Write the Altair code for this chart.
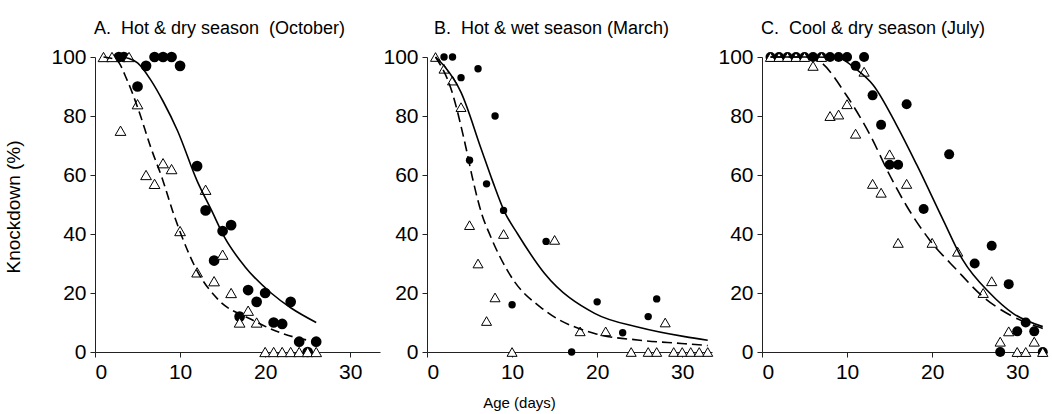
import altair as alt
import pandas as pd

FONT = "Liberation Sans"

# ---------------- Panel A: Hot & dry season (October) ----------------
a_circ_x = [2.8, 3.4, 5, 6, 7, 8, 9, 10, 12, 13, 14, 15, 16, 17, 18, 19, 20, 21, 22, 23, 24, 25, 26]
a_circ_y = [100, 100, 90, 97, 100, 100, 100, 97, 63, 48, 31, 41, 43, 12, 21, 17, 20, 10, 9.5, 17, 3.5, 0, 3.5]
a_tri_x = [1, 2, 4, 3, 5, 6, 7, 8, 9, 10, 12, 13, 14, 15, 16, 17, 18, 19, 20, 21, 22, 23, 24, 25, 26]
a_tri_y = [100, 100, 100, 75, 84, 60, 57, 64, 62, 41, 27, 55, 24, 33, 20, 10, 14, 10, 0, 0, 0, 0, 0, 0, 0]
a_sol_x = [3, 4, 5, 6.6, 8, 9.7, 12, 13.7, 15.2, 17.6, 20.7, 23, 26]
a_sol_y = [100, 99.5, 98, 92, 85, 75, 58, 48, 39, 29, 20, 15, 10]
a_das_x = [1, 2.5, 3.8, 5, 6.6, 8, 9.1, 10.1, 12.1, 14.4, 18.4, 22.3, 25]
a_das_y = [100, 99, 92, 83, 69, 58, 48, 40, 27, 18, 11, 6, 4]

# ---------------- Panel B: Hot & wet season (March) ----------------
b_circ_x = [2, 3, 4, 6, 5, 7, 8, 9, 10, 14, 17, 20, 23, 26, 27]
b_circ_y = [100, 100, 93, 96, 65, 57, 80, 48, 16, 37.5, 0, 17, 6.5, 12, 18]
b_tri_x = [1, 2, 3, 4, 5, 6, 7, 8, 9, 10, 15, 18, 21, 24, 26, 27, 28, 29, 30, 31, 32, 33]
b_tri_y = [100, 96, 92, 83, 43, 30, 10.5, 18.5, 40, 0, 38, 7, 7, 0, 0, 0, 10, 0, 0, 0, 0, 0]
b_sol_x = [1, 2, 4, 6.35, 7.7, 9.1, 10.66, 13.8, 19.7, 25, 30.3, 33]
b_sol_y = [100, 97, 88, 69, 58, 47.6, 40, 26.7, 13.1, 8.3, 5.2, 4]
b_das_x = [1, 2.8, 4.6, 5.4, 6.35, 7.5, 9.9, 13.8, 19.7, 25, 29.9, 33]
b_das_y = [100, 89.4, 69, 58.3, 47.6, 39, 25.5, 14.2, 6.3, 4, 2.9, 2.2]

# ---------------- Panel C: Cool & dry season (July) ----------------
c_circ_x = [1, 2, 3, 4, 5, 6, 7, 8, 9, 10, 12, 11, 13, 14, 15, 16, 17, 19, 22, 25, 27, 28, 29, 30, 31, 32, 33]
c_circ_y = [100, 100, 100, 100, 100, 100, 100, 100, 100, 100, 100, 97, 87, 77, 63.5, 63.5, 84, 48.5, 67, 30, 36, 0, 23, 7, 10, 7, 0]
c_tri_x = [1, 2, 3, 4, 5, 7, 6, 8, 9, 10, 11, 12, 13, 14, 15, 16, 17, 20, 23, 26, 27, 28, 29, 30, 31, 32, 33]
c_tri_y = [100, 100, 100, 100, 100, 100, 97, 80, 80.5, 84, 74, 95, 57, 54, 67, 37, 57, 37, 34, 20, 24, 3.5, 7, 0, 0, 3.5, 0]
c_sol_x = [1, 6, 9.1, 11, 13.06, 15.8, 18.2, 21.3, 23.6, 26.8, 29.5, 33]
c_sol_y = [100, 100, 99.5, 96, 90.5, 77, 63.4, 44.7, 31.2, 19.9, 13.1, 8.6]
c_das_x = [1, 5, 6.8, 9.9, 12.7, 15, 17, 19.7, 22.9, 26, 29.5, 33]
c_das_y = [100, 100, 98.4, 87.1, 73.6, 60, 49.5, 38, 27.8, 18.7, 12, 8]

titles = ["A.\u00a0 Hot & dry season\u00a0 (October)",
          "B.\u00a0 Hot & wet season (March)",
          "C.\u00a0 Cool & dry season (July)"]
x_ticks = [0, 10, 20, 30]
y_ticks = [0, 20, 40, 60, 80, 100]

W, H = 285, 295


def panel(i, cx, cy, tx, ty, sx, sy, dx_, dy_, csize, tsize, dash, title_dx):
    xs = alt.Scale(domain=[0, 33.5], nice=False, zero=False)
    ys = alt.Scale(domain=[0, 100], nice=False)
    common = dict(labelFont=FONT, labelFontSize=21, labelColor="black",
                  domainColor="#222", tickColor="#222", tickSize=5,
                  grid=False, titleFont=FONT, titleColor="black",
                  titleFontWeight="normal")
    if i == 0:
        yax = alt.Axis(values=y_ticks, title="Knockdown (%)", titleFontSize=19,
                       titleX=-82, titleY=H / 2 + 2, titleAngle=-90,
                       titleBaseline="middle", titleAlign="center",
                       labelPadding=4, **common)
    else:
        yax = alt.Axis(values=y_ticks, title=None, labelPadding=4, **common)
    if i == 1:
        xax = alt.Axis(values=x_ticks, title="Age (days)", titleFontSize=15,
                       titleX=92, titleY=50, titleBaseline="middle",
                       titleAlign="center", labelPadding=4, **common)
    else:
        xax = alt.Axis(values=x_ticks, title=None, labelPadding=4, **common)

    xenc = alt.X("x:Q", scale=xs, axis=xax)
    yenc = alt.Y("y:Q", scale=ys, axis=yax)

    circ = alt.Chart(pd.DataFrame({"x": cx, "y": cy})).mark_point(
        shape="circle", filled=True, color="black", size=csize, opacity=1
    ).encode(x=xenc, y=yenc)
    tri = alt.Chart(pd.DataFrame({"x": tx, "y": ty})).mark_point(
        shape="triangle-up", filled=True, fill="white", stroke="black",
        strokeWidth=1, size=tsize, opacity=1
    ).encode(x=xenc, y=yenc)
    sol = alt.Chart(pd.DataFrame({"x": sx, "y": sy})).mark_line(
        color="black", strokeWidth=1.6, interpolate="monotone"
    ).encode(x=xenc, y=yenc)
    das = alt.Chart(pd.DataFrame({"x": dx_, "y": dy_})).mark_line(
        color="black", strokeWidth=1.6, strokeDash=dash, interpolate="monotone"
    ).encode(x=xenc, y=yenc)

    return alt.layer(circ, tri, das, sol).properties(
        width=W, height=H,
        title=alt.TitleParams(titles[i], anchor="start", frame="group",
                              font=FONT, fontSize=18, fontWeight="normal",
                              color="black", dx=title_dx, offset=8),
    )


pA = panel(0, a_circ_x, a_circ_y, a_tri_x, a_tri_y, a_sol_x, a_sol_y, a_das_x, a_das_y,
           115, 115, [9, 5], -1)
pB = panel(1, b_circ_x, b_circ_y, b_tri_x, b_tri_y, b_sol_x, b_sol_y, b_das_x, b_das_y,
           55, 100, [10, 5], 7)
pC = panel(2, c_circ_x, c_circ_y, c_tri_x, c_tri_y, c_sol_x, c_sol_y, c_das_x, c_das_y,
           100, 105, [12, 6], -1)

chart = alt.hconcat(pA, pB, pC, spacing=2).properties(
    padding={"left": 4, "top": 20, "right": 0, "bottom": 5},
    background="white",
).configure_view(stroke=None)

chart.save("out.html", embed_options={"renderer": "svg", "actions": False})
